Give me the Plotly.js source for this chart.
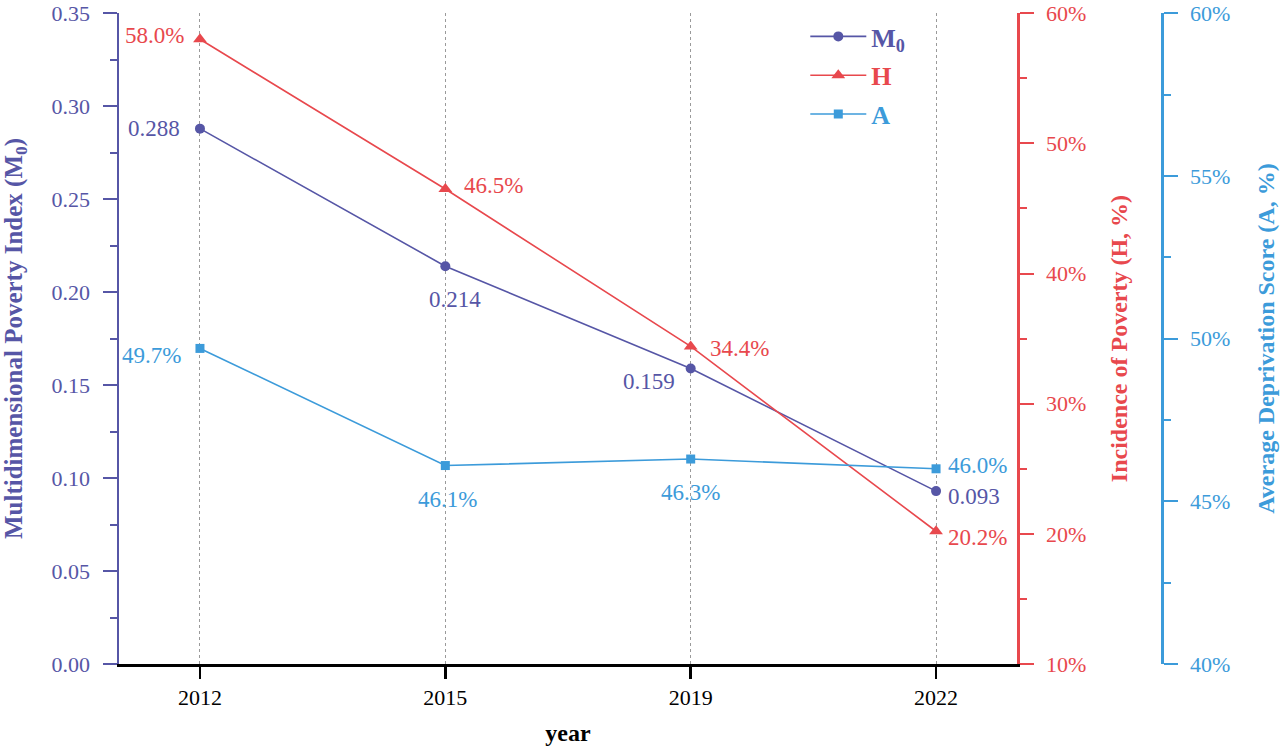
<!DOCTYPE html>
<html>
<head>
<meta charset="utf-8">
<script src="https://cdn.plot.ly/plotly-3.0.1.min.js"></script>
<style>
  html, body { margin: 0; padding: 0; background: #fff; }
  #chart { width: 1280px; height: 748px; }
</style>
</head>
<body>
<div id="chart"></div>
<script>
var years = ['2012', '2015', '2019', '2022'];
var m0 = [0.288, 0.214, 0.159, 0.093];
var hPct = [58.0, 46.5, 34.4, 20.2];
var aPct = [49.7, 46.1, 46.3, 46.0];

var cM0 = '#5656A6';
var cH = '#E8484D';
var cA = '#3C9BDA';
var serif = 'Liberation Serif, Times New Roman, serif';

// label placement per point: [xanchor, xshift, yshift]
var m0Pos = [['right', -18, 0], ['center', 10, -33], ['right', -14, -13], ['left', 10, -5]];
var hPos = [['right', -14, 4], ['left', 17, 3], ['left', 17, -2], ['left', 10, -6]];
var aPos = [['right', -17, -7], ['center', 2, -34], ['center', 0, -33], ['left', 10, 3]];

var trM0 = {
  x: years, y: m0, name: '<b><span style="color:' + cM0 + '">M<sub>0</sub></span></b>',
  type: 'scatter', mode: 'lines+markers', yaxis: 'y', legendgroup: 'm0',
  line: {color: cM0, width: 1.6},
  marker: {color: cM0, symbol: 'circle', size: 10}
};
var trH = {
  x: years, y: hPct, name: '<b><span style="color:' + cH + '">H</span></b>',
  type: 'scatter', mode: 'lines+markers', yaxis: 'y2', legendgroup: 'h',
  line: {color: cH, width: 1.6},
  marker: {color: cH, symbol: 'triangle-up', size: 12}
};
var trA = {
  x: years, y: aPct, name: '<b><span style="color:' + cA + '">A</span></b>',
  type: 'scatter', mode: 'lines+markers', yaxis: 'y3', legendgroup: 'a',
  line: {color: cA, width: 1.6},
  marker: {color: cA, symbol: 'square', size: 9}
};

// category index i is the position of years[i] on the x axis
function labels(vals, fmt, pos, yref, color) {
  return vals.map(function (v, i) {
    return {
      x: i, y: v, xref: 'x', yref: yref,
      text: fmt(v), showarrow: false,
      xanchor: pos[i][0], yanchor: 'middle',
      xshift: pos[i][1], yshift: pos[i][2],
      font: {family: serif, size: 23, color: color}
    };
  });
}

var annotations = []
  .concat(labels(m0, function (v) { return v.toFixed(3); }, m0Pos, 'y', cM0))
  .concat(labels(hPct, function (v) { return v.toFixed(1) + '%'; }, hPos, 'y2', cH))
  .concat(labels(aPct, function (v) { return v.toFixed(1) + '%'; }, aPos, 'y3', cA));

function yAxis(color, extra) {
  var ax = {
    showline: true, linecolor: color, linewidth: 2.5,
    ticks: 'outside', ticklen: 14, tickwidth: 2, tickcolor: color,
    ticklabelstandoff: 8, ticklabeloverflow: 'allow',
    showgrid: false, zeroline: false, fixedrange: true,
    tickfont: {family: serif, size: 22, color: color},
    automargin: false
  };
  for (var k in extra) ax[k] = extra[k];
  return ax;
}

var layout = {
  width: 1280, height: 748,
  margin: {l: 119, r: 118, t: 13, b: 84},
  paper_bgcolor: '#fff', plot_bgcolor: '#fff',
  font: {family: serif, size: 22, color: '#000'},
  showlegend: true,
  legend: {
    x: 0.658, y: 1, xanchor: 'left', yanchor: 'top',
    bgcolor: 'rgba(0,0,0,0)', tracegroupgap: 2, itemwidth: 56,
    font: {family: serif, size: 26}
  },
  xaxis: {
    type: 'category', domain: [0, 0.861], range: [-0.33, 3.33],
    showline: true, linecolor: '#000', linewidth: 2.5,
    ticks: 'outside', ticklen: 12, tickwidth: 2.5, tickcolor: '#000',
    showgrid: true, gridcolor: '#9a9a9a', griddash: 'dot', gridwidth: 1,
    zeroline: false, fixedrange: true, automargin: false,
    tickfont: {family: serif, size: 22, color: '#000'},
    title: {text: '<b>year</b>', font: {family: serif, size: 24, color: '#000'}, standoff: 16}
  },
  yaxis: yAxis(cM0, {
    range: [0, 0.3502], dtick: 0.05, tick0: 0, tickformat: '.2f',
    minor: {ticks: 'outside', ticklen: 7, tickwidth: 2, tickcolor: cM0, dtick: 0.025, showgrid: false},
    title: {text: '<b>Multidimensional Poverty Index (M<sub>0</sub>)</b>',
      font: {family: serif, size: 25, color: cM0}, standoff: 23}
  }),
  yaxis2: yAxis(cH, {
    overlaying: 'y', side: 'right', anchor: 'x',
    range: [10, 60.02], dtick: 10, tick0: 10, ticksuffix: '%',
    minor: {ticks: 'outside', ticklen: 7, tickwidth: 2, tickcolor: cH, dtick: 5, showgrid: false},
    title: {text: '<b>Incidence of Poverty (H, %)</b>',
      font: {family: serif, size: 24, color: cH}, standoff: 25}
  }),
  yaxis3: yAxis(cA, {
    overlaying: 'y', side: 'right', anchor: 'free', position: 1,
    range: [40, 60.01], dtick: 5, tick0: 40, ticksuffix: '%',
    minor: {ticks: 'outside', ticklen: 7, tickwidth: 2, tickcolor: cA, dtick: 2.5, showgrid: false},
    title: {text: '<b>Average Deprivation Score (A, %)</b>',
      font: {family: serif, size: 24, color: cA}, standoff: 27}
  }),
  annotations: annotations
};

Plotly.newPlot('chart', [trM0, trH, trA], layout, {staticPlot: true});
</script>
</body>
</html>
